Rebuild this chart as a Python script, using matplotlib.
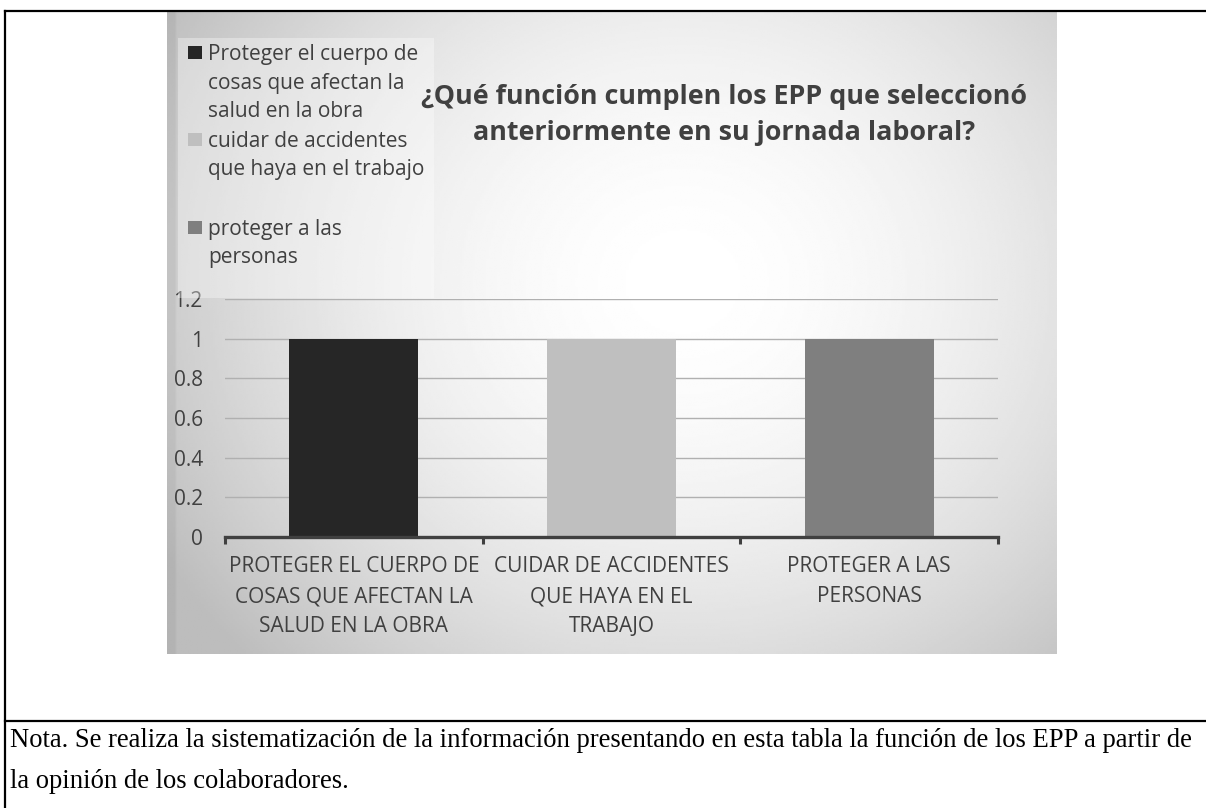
import matplotlib
matplotlib.use("Agg")
from matplotlib import pyplot as plt
from matplotlib.patches import Rectangle
from matplotlib.lines import Line2D
import numpy as np

# data
categories = ["PROTEGER EL CUERPO DE\nCOSAS QUE AFECTAN LA\nSALUD EN LA OBRA",
              "CUIDAR DE ACCIDENTES\nQUE HAYA EN EL\nTRABAJO",
              "PROTEGER A LAS\nPERSONAS"]
legend_labels = ["Proteger el cuerpo de\ncosas que afectan la\nsalud en la obra",
                 "cuidar de accidentes\nque haya en el trabajo",
                 "proteger a las\npersonas"]
values = [1, 1, 1]
bar_colors = ["#262626", "#bfbfbf", "#7f7f7f"]
y_ticks = [0, 0.2, 0.4, 0.6, 0.8, 1, 1.2]
y_tick_labels = ["0", "0.2", "0.4", "0.6", "0.8", "1", "1.2"]
title = "¿Qué función cumplen los EPP que seleccionó\nanteriormente en su jornada laboral?"
note_lines = ["Nota. Se realiza la sistematización de la información presentando en esta tabla la función de los EPP a partir de",
              "la opinión de los colaboradores."]

W, H = 1206, 808
fig = plt.figure(figsize=(W / 100, H / 100), dpi=100)
fig.patch.set_facecolor("white")

def fx(px):
    return px / W

def fy(py):
    return 1 - py / H

FONT = "Open Sans"
TXT = "#404040"

# chart area with radial gradient background
cx0, cy0, cx1, cy1 = 167, 12, 1057, 654
bg = fig.add_axes([fx(cx0), fy(cy1), fx(cx1 - cx0), (cy1 - cy0) / H])
gx, gy = np.meshgrid(np.linspace(0, 1, 400), np.linspace(0, 1, 300))
d = np.sqrt(((gx - 0.58) / 0.68) ** 2 + ((gy - 0.42) / 0.85) ** 2)
shade = 1 - 0.26 * np.clip(d, 0, 1) ** 1.8
shade[:, :4] -= 0.04  # darker strip on the left edge
bg.imshow(shade, cmap="gray", vmin=0, vmax=1, aspect="auto",
          extent=[0, 1, 1, 0], interpolation="bilinear")
bg.set_xlim(0, 1)
bg.set_ylim(1, 0)
bg.axis("off")

# legend backdrop
fig.patches.append(Rectangle((fx(178), fy(298)), fx(434 - 178), (298 - 38) / H,
                             transform=fig.transFigure, facecolor="white",
                             alpha=0.35, edgecolor="none", zorder=1))

# plot axes
px0, px1, py0, py1 = 225, 998, 299, 537
ax = fig.add_axes([fx(px0), fy(py1), fx(px1 - px0), (py1 - py0) / H])
ax.patch.set_alpha(0)
x = np.arange(len(categories))
ax.bar(x, values, width=0.5, color=bar_colors, zorder=3)
ax.set_xlim(-0.5, len(categories) - 0.5)
ax.set_ylim(0, 1.2)
ax.set_yticks(y_ticks)
ax.set_yticklabels(y_tick_labels, fontfamily=FONT, fontsize=15, color=TXT)
ax.yaxis.grid(True, color="#b0b0b0", linewidth=1.0, zorder=0)
ax.set_axisbelow(True)
ax.tick_params(axis="y", length=0, pad=16)
ax.set_xticks(x)
ax.set_xticklabels(categories, fontfamily=FONT, fontsize=15, color=TXT,
                   linespacing=1.58)
ax.set_xticks(np.arange(-0.5, len(categories)), minor=True)
ax.tick_params(axis="x", which="major", length=0, pad=13.5)
ax.tick_params(axis="x", which="minor", length=5, width=2.2, color="#404040",
               direction="out")
for s in ["left", "right", "top"]:
    ax.spines[s].set_visible(False)
ax.spines["bottom"].set_color("#404040")
ax.spines["bottom"].set_linewidth(2.4)
ax.spines["bottom"].set_zorder(4)

# legend drawn as in the source: swatch aligned with first line
entry_rows = [53, 140, 228]
for lab, col, row in zip(legend_labels, bar_colors, entry_rows):
    fig.patches.append(Rectangle((fx(188), fy(row + 6)), fx(14), 13 / H,
                                 transform=fig.transFigure, facecolor=col,
                                 edgecolor="none", zorder=5))
    for i, part in enumerate(lab.split("\n")):
        fig.text(fx(208), fy(row + 7 + i * 28.5), part, fontfamily=FONT,
                 fontsize=15, color=TXT, va="baseline", ha="left", zorder=5)

# title
for i, part in enumerate(title.split("\n")):
    fig.text(fx(724), fy(94 + 9.5 + i * 37), part, fontfamily=FONT,
             fontsize=19.4, fontweight="bold", color="#404040",
             ha="center", va="baseline")

# table borders around the figure
for xs, ys in [([5, W], [11, 11]), ([5, 5], [11, H]), ([5, W], [721, 721])]:
    fig.lines.append(Line2D([fx(v) for v in xs], [fy(v) for v in ys],
                            transform=fig.transFigure, color="black",
                            linewidth=1.6))

# note below the chart
for line, base in zip(note_lines, [747, 788]):
    fig.text(fx(10), fy(base), line, fontfamily="Liberation Serif",
             fontsize=19.2, color="black", ha="left", va="baseline")

fig.savefig("out.png", dpi=100)
